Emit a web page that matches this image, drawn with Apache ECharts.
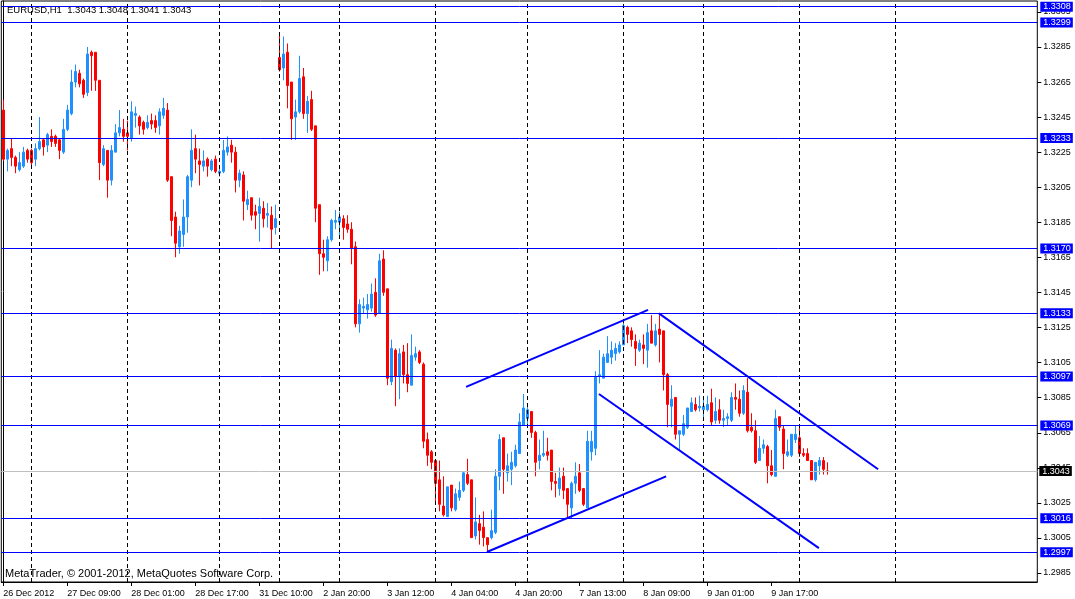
<!DOCTYPE html>
<html><head><meta charset="utf-8">
<script src="https://cdn.jsdelivr.net/npm/echarts@6/dist/echarts.min.js"></script>
<style>html,body{margin:0;padding:0;background:#fff}#c{width:1075px;height:599px}</style>
</head><body><div id="c"></div>
<script>
// ---- data ----
const daySegments = [['26 Dec',17,23],['27 Dec',0,23],['28 Dec',0,22],['31 Dec',0,14],['2 Jan',9,23],['3 Jan',0,23],['4 Jan',0,22],['7 Jan',0,23],['8 Jan',4,23],['9 Jan',0,23],['10 Jan',0,23],['11 Jan',0,23],['14 Jan',0,23]];
const totalSlots = 259;
// [open, close, low, high]
const ohlc = [
[1.3249,1.3221,1.3220,1.3255],[1.3221,1.3226,1.3214,1.3227],[1.3227,1.3222,1.3217,1.3233],[1.3222,1.3217,1.3213,1.3223],
[1.3215,1.3219,1.3214,1.3225],[1.3217,1.3225,1.3216,1.3228],[1.3226,1.3221,1.3219,1.3227],[1.3226,1.3219,1.3217,1.3227],
[1.3221,1.3227,1.3217,1.3230],[1.3227,1.3231,1.3226,1.3245],[1.3232,1.3228,1.3223,1.3233],[1.3229,1.3235,1.3225,1.3236],
[1.3234,1.3231,1.3228,1.3238],[1.3234,1.3230,1.3228,1.3235],[1.3232,1.3226,1.3221,1.3233],[1.3225,1.3238,1.3224,1.3244],
[1.3238,1.3249,1.3237,1.3252],[1.3247,1.3265,1.3246,1.3272],[1.3265,1.3271,1.3262,1.3275],[1.3270,1.3264,1.3262,1.3272],
[1.3266,1.3258,1.3256,1.3267],[1.3259,1.3281,1.3257,1.3285],[1.3282,1.3280,1.3260,1.3283],[1.3282,1.3266,1.3260,1.3282],
[1.3266,1.3219,1.3209,1.3266],[1.3218,1.3227,1.3217,1.3229],[1.3226,1.3209,1.3199,1.3226],[1.3209,1.3226,1.3206,1.3229],
[1.3225,1.3236,1.3225,1.3241],[1.3236,1.3239,1.3234,1.3249],[1.3238,1.3234,1.3231,1.3244],[1.3236,1.3234,1.3226,1.3243],
[1.3233,1.3248,1.3231,1.3254],[1.3246,1.3247,1.3239,1.3251],[1.3245,1.3240,1.3235,1.3246],[1.3242,1.3238,1.3235,1.3243],
[1.3239,1.3242,1.3238,1.3246],[1.3243,1.3241,1.3238,1.3247],[1.3243,1.3239,1.3236,1.3246],[1.3240,1.3248,1.3235,1.3250],
[1.3246,1.3250,1.3244,1.3256],[1.3249,1.3209,1.3208,1.3253],[1.3211,1.3186,1.3177,1.3211],[1.3188,1.3173,1.3165,1.3191],
[1.3171,1.3180,1.3167,1.3183],[1.3178,1.3188,1.3171,1.3198],[1.3188,1.3211,1.3179,1.3212],[1.3209,1.3226,1.3205,1.3238],
[1.3227,1.3221,1.3213,1.3235],[1.3220,1.3218,1.3206,1.3227],[1.3217,1.3220,1.3214,1.3226],[1.3221,1.3217,1.3211,1.3222],
[1.3215,1.3220,1.3214,1.3221],[1.3221,1.3214,1.3213,1.3223],[1.3213,1.3214,1.3211,1.3216],[1.3214,1.3226,1.3213,1.3232],
[1.3225,1.3228,1.3223,1.3234],[1.3229,1.3225,1.3219,1.3232],[1.3225,1.3209,1.3202,1.3228],[1.3209,1.3213,1.3205,1.3215],
[1.3212,1.3197,1.3186,1.3214],[1.3195,1.3198,1.3192,1.3203],[1.3199,1.3189,1.3186,1.3199],[1.3191,1.3189,1.3181,1.3195],
[1.3190,1.3194,1.3174,1.3199],[1.3193,1.3187,1.3182,1.3197],[1.3189,1.3190,1.3182,1.3196],[1.3189,1.3181,1.3170,1.3194],
[1.3182,1.3187,1.3178,1.3195],[1.3279,1.3272,1.3271,1.3293],[1.3273,1.3281,1.3266,1.3291],[1.3282,1.3263,1.3250,1.3287],
[1.3265,1.3244,1.3232,1.3265],[1.3245,1.3248,1.3232,1.3255],[1.3248,1.3267,1.3247,1.3280],[1.3268,1.3247,1.3244,1.3273],
[1.3247,1.3254,1.3236,1.3257],[1.3255,1.3238,1.3237,1.3260],[1.3240,1.3193,1.3185,1.3240],[1.3195,1.3167,1.3155,1.3195],
[1.3167,1.3165,1.3157,1.3175],[1.3163,1.3175,1.3157,1.3177],[1.3175,1.3186,1.3174,1.3187],[1.3185,1.3186,1.3181,1.3192],
[1.3185,1.3188,1.3177,1.3191],[1.3187,1.3182,1.3175,1.3189],[1.3184,1.3181,1.3179,1.3189],[1.3181,1.3170,1.3161,1.3185],
[1.3171,1.3127,1.3125,1.3174],[1.3127,1.3138,1.3122,1.3141],[1.3136,1.3137,1.3133,1.3142],[1.3135,1.3138,1.3130,1.3144],
[1.3136,1.3144,1.3134,1.3150],[1.3145,1.3132,1.3131,1.3153],[1.3133,1.3163,1.3133,1.3167],[1.3164,1.3145,1.3143,1.3169],
[1.3147,1.3096,1.3092,1.3147],[1.3094,1.3113,1.3092,1.3118],[1.3112,1.3097,1.3080,1.3113],[1.3097,1.3110,1.3084,1.3113],
[1.3111,1.3098,1.3093,1.3115],[1.3098,1.3093,1.3088,1.3116],[1.3092,1.3109,1.3092,1.3121],[1.3108,1.3110,1.3106,1.3114],
[1.3111,1.3105,1.3104,1.3112],[1.3104,1.3060,1.3056,1.3105],[1.3061,1.3052,1.3046,1.3065],[1.3054,1.3048,1.3044,1.3055],
[1.3049,1.3036,1.3024,1.3049],[1.3038,1.3024,1.3020,1.3049],[1.3023,1.3018,1.3017,1.3040],[1.3017,1.3034,1.3017,1.3034],
[1.3035,1.3022,1.3020,1.3035],[1.3021,1.3030,1.3020,1.3033],[1.3028,1.3032,1.3026,1.3037],[1.3032,1.3042,1.3031,1.3043],
[1.3041,1.3036,1.3035,1.3050],[1.3038,1.3005,1.3005,1.3038],[1.3006,1.3014,1.3004,1.3028],[1.3013,1.3009,1.3001,1.3018],
[1.3011,1.3005,1.3000,1.3020],[1.3005,1.3001,1.29967,1.3005],[1.3005,1.3009,1.3004,1.3021],[1.3008,1.3040,1.3007,1.3044],
[1.3040,1.3061,1.3032,1.3064],[1.3062,1.3044,1.3030,1.3062],[1.3042,1.3046,1.3037,1.3053],[1.3044,1.3048,1.3035,1.3054],
[1.3046,1.3055,1.3045,1.3058],[1.3053,1.3071,1.3053,1.3076],[1.3069,1.3079,1.3069,1.3087],[1.3073,1.3078,1.3069,1.3080],
[1.3077,1.3065,1.3062,1.3077],[1.3065,1.3048,1.3040,1.3066],[1.3049,1.3052,1.3044,1.3061],[1.3052,1.3053,1.3051,1.3066],
[1.3054,1.3052,1.3049,1.3062],[1.3055,1.3037,1.3032,1.3055],[1.3037,1.3036,1.3028,1.3042],[1.3033,1.3039,1.3029,1.3045],
[1.3040,1.3032,1.3027,1.3045],[1.3033,1.3024,1.3016,1.3033],[1.3022,1.3036,1.3016,1.3037],[1.3036,1.3040,1.3030,1.3048],
[1.3042,1.3032,1.3031,1.3047],[1.3033,1.3024,1.3023,1.3033],[1.3022,1.3060,1.3022,1.3066],[1.3054,1.3060,1.3049,1.3066],
[1.3056,1.3097,1.3052,1.3100],[1.3097,1.3098,1.3093,1.3112],[1.3096,1.3108,1.3096,1.3110],[1.3105,1.3110,1.3105,1.3120],
[1.3108,1.3112,1.3104,1.3117],[1.3110,1.3113,1.3106,1.3116],[1.3111,1.3115,1.3110,1.3117],[1.3115,1.3126,1.3115,1.3128],
[1.3125,1.3121,1.3116,1.3126],[1.3123,1.3118,1.3114,1.3125],[1.3117,1.3113,1.3103,1.3121],[1.3112,1.3116,1.3111,1.3118],
[1.3115,1.3113,1.3104,1.3121],[1.3112,1.3122,1.3102,1.3127],[1.3123,1.3116,1.3116,1.3132],[1.3115,1.3123,1.3114,1.3127],
[1.3124,1.3121,1.3105,1.3132],[1.3123,1.3098,1.3089,1.3123],[1.3098,1.3081,1.3068,1.3099],[1.3080,1.3084,1.3068,1.3092],
[1.3085,1.3064,1.3061,1.3085],[1.3064,1.3066,1.3055,1.3066],[1.3064,1.3070,1.3063,1.3075],[1.3068,1.3079,1.3067,1.3079],
[1.3077,1.3082,1.3077,1.3085],[1.3081,1.3078,1.3077,1.3085],[1.3079,1.3080,1.3077,1.3086],[1.3078,1.3080,1.3072,1.3084],
[1.3078,1.3081,1.3077,1.3086],[1.3082,1.3071,1.3069,1.3090],[1.3072,1.3077,1.3070,1.3085],[1.3078,1.3072,1.3070,1.3084],
[1.3072,1.3073,1.3068,1.3078],[1.3073,1.3074,1.3069,1.3076],[1.3072,1.3085,1.3071,1.3088],[1.3085,1.3084,1.3078,1.3093],
[1.3084,1.3076,1.3074,1.3089],[1.3076,1.3089,1.3075,1.3092],[1.3088,1.3066,1.3065,1.3096],[1.3068,1.3066,1.3065,1.3076],
[1.3066,1.3048,1.3047,1.3072],[1.3049,1.3056,1.3049,1.3063],[1.3056,1.3058,1.3053,1.3061],[1.3057,1.3046,1.3036,1.3058],
[1.3046,1.3041,1.3040,1.3055],[1.3040,1.3073,1.3040,1.3078],[1.3074,1.3068,1.3066,1.3074],[1.3067,1.3053,1.3044,1.3069],
[1.3052,1.3054,1.3051,1.3061],[1.3052,1.3064,1.3051,1.3064],[1.3061,1.3064,1.3059,1.3069],[1.3062,1.3053,1.3051,1.3068],
[1.3053,1.3052,1.3051,1.3056],[1.3053,1.3049,1.3049,1.3056],[1.3049,1.3038,1.3038,1.3049],[1.3038,1.3048,1.3037,1.3048],
[1.3046,1.3049,1.3041,1.3051],[1.3049,1.3044,1.3041,1.3051],[1.3043,1.3043,1.3041,1.3048]
];
const levelValues = [1.3308, 1.3299, 1.3233, 1.3170, 1.3133, 1.3097, 1.3069, 1.3016, 1.29967];
const bidValue = 1.3043;
const separatorIdx = [7, 31, 54, 69, 84, 108, 131, 155, 175, 199, 223];
const xTickIdx = [0, 16, 32, 48, 64, 80, 96, 112, 128, 144, 160, 176, 192];
const xTickText = ['26 Dec 2012','27 Dec 09:00','28 Dec 01:00','28 Dec 17:00','31 Dec 10:00','2 Jan 20:00','3 Jan 12:00','4 Jan 04:00','4 Jan 20:00','7 Jan 13:00','8 Jan 09:00','9 Jan 01:00','9 Jan 17:00'];
const yTickValues = [1.2985,1.3005,1.3025,1.3045,1.3065,1.3085,1.3105,1.3125,1.3145,1.3165,1.3185,1.3205,1.3225,1.3245,1.3265,1.3285,1.3305];
// trend lines: [[barIndex, price], [barIndex, price]]
const trendLines = [
  [[115.7, 1.3091], [161.2, 1.3135]],
  [[120.9, 1.29968], [165.7, 1.3040]],
  [[163.9, 1.3133], [218.7, 1.3044]],
  [[148.9, 1.3087], [203.9, 1.2999]]
];
const titleText = 'EURUSD,H1  1.3043 1.3048 1.3041 1.3043';
const copyrightText = 'MetaTrader, \u00a9 2001-2012, MetaQuotes Software Corp.';

// ---- build ----
const categories = [];
daySegments.forEach(([d, h0, h1]) => {
  for (let h = h0; h <= h1; h++) categories.push(d + ' ' + String(h).padStart(2, '0') + ':00');
});
categories.length = totalSlots;

const FONT = 'Tahoma, "Liberation Sans", Arial, sans-serif';
const showTick = (i) => xTickIdx.indexOf(i) >= 0;

const markData = [];
separatorIdx.forEach(i => markData.push({
  xAxis: i, lineStyle: { color: '#000', width: 1, type: [4, 3] }, label: { show: false }
}));
levelValues.forEach(v => markData.push({
  yAxis: v, lineStyle: { color: '#0000ff', width: 1, type: 'solid' },
  label: { show: true, position: 'end', distance: 3, formatter: () => v.toFixed(4),
    color: '#fff', backgroundColor: '#0000ff', padding: [1, 2, 0, 3], fontSize: 9, fontFamily: FONT }
}));
markData.push({
  yAxis: bidValue, lineStyle: { color: '#c0c0c0', width: 1, type: 'solid' },
  label: { show: true, position: 'end', distance: 2, formatter: () => bidValue.toFixed(4),
    color: '#fff', backgroundColor: '#000', padding: [1, 2, 0, 3], fontSize: 9, fontFamily: FONT }
});

const series = [{
  type: 'candlestick', xAxisIndex: 0, yAxisIndex: 0,
  data: ohlc, barWidth: 2,
  itemStyle: { color: '#1e90ff', color0: '#ff0000', borderColor: '#1e90ff', borderColor0: '#ff0000', borderWidth: 1 },
  markLine: { silent: true, symbol: ['none', 'none'], animation: false, precision: 5, data: markData }
}];
trendLines.forEach(tl => series.push({
  type: 'line', xAxisIndex: 1, yAxisIndex: 0, data: tl, symbol: 'none', silent: true, z: 6,
  lineStyle: { color: '#0000ff', width: 2 }
}));
// price-axis tick marks, placed through the axes' own scales
series.push({
  type: 'custom', xAxisIndex: 1, yAxisIndex: 0, silent: true, clip: false, z: 1,
  data: yTickValues.map(v => [totalSlots - 0.5, v]),
  renderItem: (params, api) => {
    const p = api.coord([api.value(0), api.value(1)]);
    const y = Math.round(p[1]) + 0.5;
    return { type: 'line', shape: { x1: p[0], y1: y, x2: p[0] + 4, y2: y }, style: { stroke: '#000', lineWidth: 1 } };
  }
});

const chart = echarts.init(document.getElementById('c'), null, { renderer: 'canvas' });
chart.setOption({
  animation: false,
  backgroundColor: '#fff',
  grid: { left: 1.3, top: 1, width: 1036, height: 581, show: true, borderColor: '#000', borderWidth: 1, backgroundColor: 'transparent' },
  xAxis: [{
    type: 'category', data: categories, boundaryGap: true,
    axisLine: { show: true, lineStyle: { color: '#000', width: 1 } },
    axisTick: { show: true, alignWithLabel: true, interval: showTick, length: 4, lineStyle: { color: '#000' } },
    axisLabel: { show: true, interval: showTick, formatter: (v, i) => xTickText[xTickIdx.indexOf(i)] || '',
      align: 'left', fontSize: 9, color: '#000', margin: 7, fontFamily: FONT },
    splitLine: { show: false }
  }, {
    type: 'value', min: -0.5, max: totalSlots - 0.5, show: false
  }],
  yAxis: [{
    type: 'value', position: 'right', min: 1.297969, max: 1.331125, scale: true,
    axisLine: { show: true, lineStyle: { color: '#000', width: 1 } },
    axisTick: { show: false },
    axisLabel: { show: true, customValues: yTickValues, formatter: v => v.toFixed(4), fontSize: 9, color: '#000', margin: 6, fontFamily: FONT },
    splitLine: { show: false }
  }],
  graphic: [
    { type: 'text', left: 7, top: 5, z: 100, style: { text: titleText, fontSize: 9.5, fill: '#000', fontFamily: FONT } },
    { type: 'text', left: 5, top: 568, z: 100, style: { text: copyrightText, fontSize: 11, fill: '#000', fontFamily: FONT } }
  ],
  series: series
});
</script>
</body></html>
